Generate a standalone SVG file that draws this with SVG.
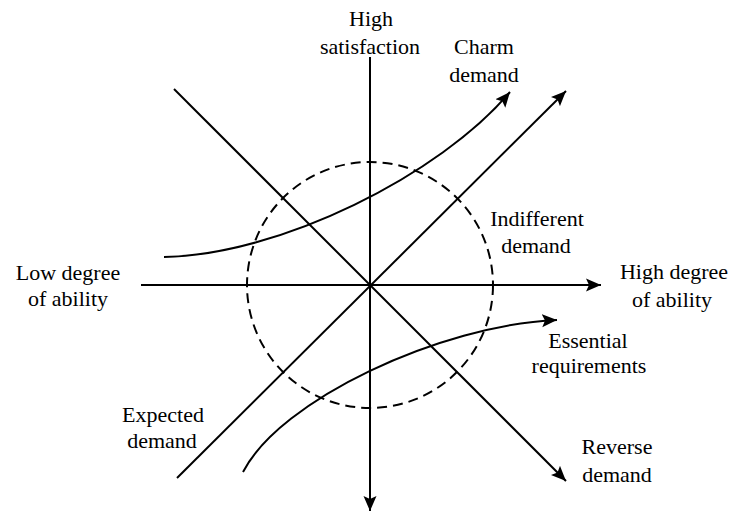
<svg xmlns="http://www.w3.org/2000/svg" width="734" height="513" viewBox="0 0 734 513">
<style>
.ln{fill:none;stroke:#000;stroke-width:2}
.ar{marker-end:url(#ah)}
.t{font-family:'Liberation Serif','Times New Roman',serif;font-size:22px;fill:#000;text-anchor:middle}
</style>
<defs>
<marker id="ah" markerUnits="userSpaceOnUse" markerWidth="16" markerHeight="14" refX="15" refY="6.5" orient="auto" viewBox="0 0 16 13">
<path d="M0,0 L15,6.5 L0,13 L3,6.5 z" fill="#000"/>
</marker>
</defs>
<g id="connectors">
<line class="ln ar" x1="370" y1="57" x2="370" y2="511"/>
<line class="ln ar" x1="141" y1="285" x2="601" y2="285"/>
<line class="ln ar" x1="174" y1="89" x2="566" y2="481"/>
<line class="ln ar" x1="177" y1="478" x2="566" y2="91"/>
<circle class="ln" cx="370" cy="285" r="123" stroke-dasharray="10,6"/>
<path class="ln ar" d="M164,257 C280,255 440,175 510,92"/>
<path class="ln ar" d="M243,472 C280,400 440,325 557,320"/>
</g>
<g id="high-satisfaction" class="t"><text x="371" y="26">High</text><text x="370" y="54">satisfaction</text></g>
<g id="charm-demand" class="t"><text x="484" y="54">Charm</text><text x="484" y="82">demand</text></g>
<g id="low-ability" class="t"><text x="68" y="280">Low degree</text><text x="68" y="306">of ability</text></g>
<g id="high-ability" class="t"><text x="674" y="279">High degree</text><text x="672" y="307">of ability</text></g>
<g id="indifferent-demand" class="t"><text x="537" y="226">Indifferent</text><text x="536" y="253">demand</text></g>
<g id="essential-requirements" class="t"><text x="588" y="348">Essential</text><text x="589" y="373">requirements</text></g>
<g id="expected-demand" class="t"><text x="163" y="422">Expected</text><text x="162" y="448">demand</text></g>
<g id="reverse-demand" class="t"><text x="617" y="454">Reverse</text><text x="617" y="482">demand</text></g>
</svg>
